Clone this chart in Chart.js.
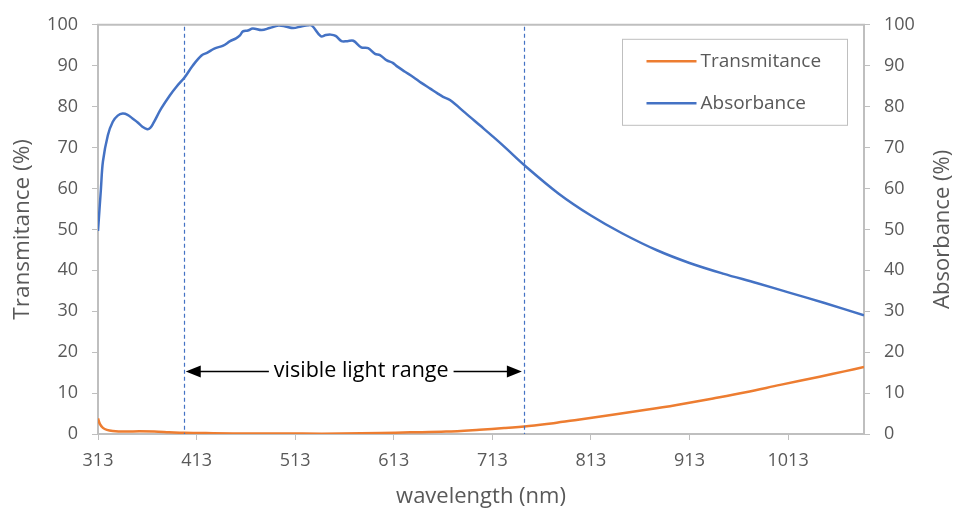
<!DOCTYPE html>
<html>
<head>
<meta charset="utf-8">
<script src="https://cdn.jsdelivr.net/npm/chart.js@4.4.1/dist/chart.umd.min.js"></script>
<style>
  html, body { margin: 0; padding: 0; background: #fff; }
  canvas { display: block; }
</style>
</head>
<body>
<canvas id="spectrum" width="955" height="514"></canvas>
<script>
// absorbance spectrum (nm, %)
const absWavelength = [313, 316, 318, 323, 328, 333, 338, 343, 348, 353, 358, 363, 366, 369, 377, 386, 393,
  401, 409, 418, 424, 431, 440, 447, 453, 457, 460, 465, 470, 479, 487, 496, 503, 511, 519, 526, 530,
  539, 544, 549, 554, 560, 566, 572, 580, 587, 594, 599, 606, 612, 616, 624, 633, 641, 650, 657, 663,
  670, 685, 700, 714, 727, 745, 780, 813, 845, 880, 913, 947, 981, 1015, 1050, 1090];
const absorbance = [49.6, 60, 66.6, 73, 76.3, 77.8, 78.3, 78, 77.1, 76.2, 75.1, 74.5, 74.8, 75.9, 79.5, 82.8, 85,
  87.2, 90, 92.5, 93.2, 94.2, 94.9, 96, 96.7, 97.4, 98.4, 98.6, 99.1, 98.7, 99.2, 99.8, 99.6, 99.2, 99.6, 99.9, 99.8,
  97.2, 97.5, 97.6, 97.3, 96, 96, 96.1, 94.5, 94.3, 92.9, 92.6, 91.3, 90.7, 89.9, 88.6, 87.2, 85.8, 84.4, 83.3, 82.4,
  81.6, 78.6, 75.5, 72.6, 69.8, 65.8, 58.8, 53.4, 49.0, 44.9, 41.8, 39.2, 36.9, 34.5, 32.0, 29.0];

// transmittance spectrum (nm, %)
const transWavelength = [313, 315, 318, 322, 328, 340, 355, 370, 385, 400, 430, 470, 520, 560, 600, 630, 666,
  700, 725, 750, 775, 800, 835, 869, 900, 937, 970, 1005, 1045, 1070, 1090];
const transmittance = [3.8, 2.4, 1.5, 1.0, 0.75, 0.6, 0.65, 0.6, 0.45, 0.3, 0.2, 0.1, 0.1, 0.1, 0.25, 0.4, 0.6,
  1.05, 1.45, 1.95, 2.65, 3.5, 4.7, 5.9, 7.1, 8.7, 10.2, 12.0, 14.0, 15.3, 16.4];

const xTickLabels = [313, 413, 513, 613, 713, 813, 913, 1013];
const visibleRange = [400, 745];
const arrowLevel = 15.5;
const rangeLabel = 'visible light range';
const rangeLabelAt = 580;

const GREY = '#bfbfbf';
const TEXT = '#595959';
const FONT = "'Open Sans', sans-serif";
Chart.defaults.font.family = FONT;

const toPoints = (xs, ys) => xs.map((w, i) => ({ x: w, y: ys[i] }));

// dashed range markers, arrow, top frame line, legend box and right title
const overlay = {
  id: 'overlay',
  afterDatasetsDraw(chart) {
    const { ctx, chartArea: a, scales: { x, y } } = chart;
    ctx.save();

    ctx.strokeStyle = GREY;
    ctx.lineWidth = 2;
    ctx.beginPath();
    ctx.moveTo(a.left - 1, a.top);
    ctx.lineTo(a.right + 1, a.top);
    ctx.stroke();

    ctx.strokeStyle = '#4472c4';
    ctx.lineWidth = 1.2;
    ctx.setLineDash([4, 3]);
    visibleRange.forEach(w => {
      const px = Math.round(x.getPixelForValue(w)) + 0.5;
      ctx.beginPath();
      ctx.moveTo(px, a.top + 2);
      ctx.lineTo(px, a.bottom);
      ctx.stroke();
    });
    ctx.setLineDash([]);

    // double arrow with the label in its gap
    const ya = Math.round(y.getPixelForValue(arrowLevel)) + 0.5;
    const x0 = x.getPixelForValue(visibleRange[0]) + 2;
    const x1 = x.getPixelForValue(visibleRange[1]) - 2;
    const xm = x.getPixelForValue(rangeLabelAt);
    ctx.font = '21.5px ' + FONT;
    const tw = ctx.measureText(rangeLabel).width;
    ctx.fillStyle = '#000';
    ctx.strokeStyle = '#000';
    ctx.lineWidth = 1.5;
    ctx.beginPath();
    ctx.moveTo(x0 + 10, ya);
    ctx.lineTo(xm - tw / 2 - 5, ya);
    ctx.moveTo(xm + tw / 2 + 5, ya);
    ctx.lineTo(x1 - 10, ya);
    ctx.stroke();
    [[x0, 1], [x1, -1]].forEach(([tip, dir]) => {
      ctx.beginPath();
      ctx.moveTo(tip, ya);
      ctx.lineTo(tip + dir * 15, ya - 6);
      ctx.lineTo(tip + dir * 15, ya + 6);
      ctx.closePath();
      ctx.fill();
    });
    ctx.textAlign = 'center';
    ctx.textBaseline = 'middle';
    ctx.fillText(rangeLabel, xm, ya - 1);

    // legend
    const bx = a.right - 241.5, by = a.top + 14.5;
    ctx.strokeStyle = GREY;
    ctx.lineWidth = 1;
    ctx.strokeRect(bx, by, 225, 86);
    ctx.font = '19px ' + FONT;
    ctx.textAlign = 'left';
    chart.data.datasets.forEach((ds, i) => {
      const ly = by + 22 + i * 42;
      ctx.strokeStyle = ds.borderColor;
      ctx.lineWidth = 2.5;
      ctx.beginPath();
      ctx.moveTo(bx + 24, ly);
      ctx.lineTo(bx + 74, ly);
      ctx.stroke();
      ctx.fillStyle = TEXT;
      ctx.fillText(ds.label, bx + 78, ly);
    });

    // right axis title, reading bottom to top
    ctx.translate(943, (a.top + a.bottom) / 2);
    ctx.rotate(-Math.PI / 2);
    ctx.textAlign = 'center';
    ctx.font = '22px ' + FONT;
    ctx.fillText('Absorbance (%)', 0, 0);
    ctx.restore();
  }
};

const yAxis = (position, width, title) => ({
  type: 'linear',
  position: position,
  min: 0,
  max: 100,
  ticks: { stepSize: 10, color: TEXT, font: { size: 18 }, padding: 14 },
  grid: { drawOnChartArea: false, drawTicks: true, tickLength: 6, color: GREY },
  border: { color: GREY, width: 2 },
  title: title,
  afterFit(scale) { scale.width = width; }
});

new Chart(document.getElementById('spectrum'), {
  type: 'line',
  data: {
    datasets: [
      {
        label: 'Transmitance',
        data: toPoints(transWavelength, transmittance),
        borderColor: '#ed7d31',
        borderWidth: 2.5,
        pointRadius: 0,
        tension: 0.35,
        yAxisID: 'y'
      },
      {
        label: 'Absorbance',
        data: toPoints(absWavelength, absorbance),
        borderColor: '#4472c4',
        borderWidth: 2.5,
        pointRadius: 0,
        tension: 0.35,
        yAxisID: 'y2'
      }
    ]
  },
  options: {
    responsive: false,
    animation: false,
    devicePixelRatio: 1,
    layout: { padding: { top: 22, left: 0, right: 0, bottom: 0 } },
    plugins: { legend: { display: false }, tooltip: { enabled: false } },
    scales: {
      x: {
        type: 'linear',
        min: 313,
        max: 1090,
        afterBuildTicks(scale) {
          scale.ticks = xTickLabels.map(v => ({ value: v }));
        },
        ticks: { autoSkip: false, maxRotation: 0, color: TEXT, font: { size: 18 }, padding: 10,
          callback: v => String(v) },
        grid: { drawOnChartArea: false, drawTicks: true, tickLength: 6, color: GREY },
        border: { color: GREY, width: 2 },
        title: { display: true, text: 'wavelength (nm)', color: TEXT, font: { size: 22 },
          padding: { top: 0, bottom: 4 } },
        afterFit(scale) { scale.height = 80; }
      },
      y: yAxis('left', 98, { display: true, text: 'Transmitance (%)', color: TEXT, font: { size: 22.5 },
        padding: { top: 9, bottom: 0 } }),
      y2: yAxis('right', 91, { display: false })
    }
  },
  plugins: [overlay]
});
</script>
</body>
</html>
